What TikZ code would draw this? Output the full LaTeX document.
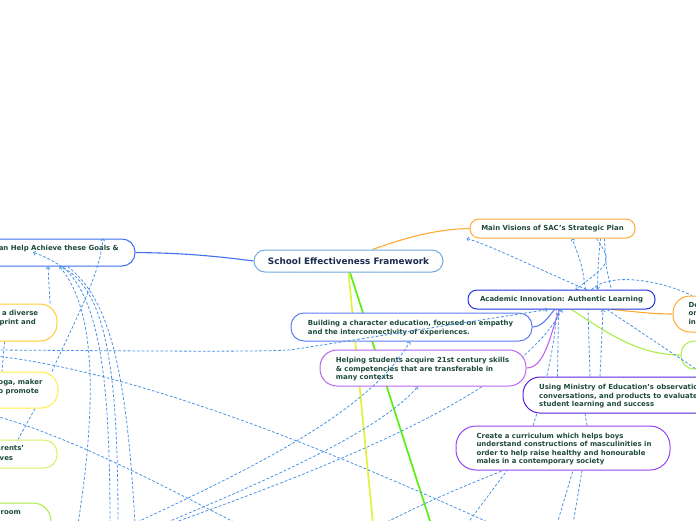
\documentclass[tikz,border=0pt]{standalone}
\usepackage{fontspec}
\setmainfont{DejaVu Sans}
\usetikzlibrary{arrows.meta}
\definecolor{tc}{HTML}{1E4A3C}
\definecolor{ctc}{HTML}{1C2C4E}
\definecolor{dashc}{HTML}{4A92E6}
\definecolor{cenb}{HTML}{72AADD}
\definecolor{lgb}{HTML}{3D6EF0}
\definecolor{orb}{HTML}{FFAA33}
\definecolor{acb}{HTML}{2233DD}
\definecolor{bub}{HTML}{5B7FF0}
\definecolor{heb}{HTML}{BB66EE}
\definecolor{usb}{HTML}{5A22DD}
\definecolor{crb}{HTML}{9944EE}
\definecolor{grb}{HTML}{AAEE44}
\definecolor{yob}{HTML}{FFCC33}
\definecolor{yeb}{HTML}{FFEE44}
\definecolor{lgc}{HTML}{DDEE66}
\definecolor{yell}{HTML}{E2F23A}
\definecolor{grn}{HTML}{5AEE14}
\definecolor{blu}{HTML}{4070EE}
\pgfdeclarelayer{bg}
\pgfsetlayers{bg,main}
\begin{document}
\begin{tikzpicture}[x=1pt,y=-1pt,
  box/.style={draw, fill=white, line width=1pt, inner sep=0pt, anchor=center},
  txt/.style={text=tc, font=\fontsize{6.95}{8.6}\selectfont\bfseries, inner sep=0pt, align=left, anchor=north west},
  rt/.style={text=tc, font=\fontsize{6.95}{8.6}\selectfont\bfseries, inner sep=0pt, anchor=base east},
  rel/.style={draw=dashc, line width=0.8pt, dash pattern=on 2.8pt off 1.9pt},
  arr/.style={-{Straight Barb[length=2pt,width=4pt,line width=0.7pt]}},
  larr/.style={{Straight Barb[length=2pt,width=4pt,line width=0.7pt]}-},
  solid/.style={line width=1.1pt}]
\useasboundingbox (0,0) rectangle (696,520);
\clip (0,0) rectangle (696,520);

% free ends
\coordinate (e78) at (78,524);
\coordinate (e110) at (110,524);
\coordinate (e118) at (118,524);
\coordinate (e133) at (133,524);
\coordinate (e135) at (135,524);
\coordinate (e163) at (163,524);
\coordinate (e170) at (170,524);
\coordinate (e238) at (238,524);
\coordinate (e383) at (383,524);
\coordinate (e467) at (467,524);
\coordinate (e490) at (492,524);
\coordinate (e557) at (557,524);
\coordinate (e573) at (573,524);
\coordinate (eY) at (373,524);
\coordinate (eG) at (431,524);
\coordinate (eR) at (702,373);
\coordinate (hL1) at (-4,350);
\coordinate (hL2) at (-4,356);
\coordinate (hL3) at (-4,416);

% nodes
\node[box, draw=cenb, minimum width=189pt, minimum height=22pt, rounded corners=11pt, text=ctc, font=\fontsize{8.85}{10}\selectfont\bfseries] (central) at (348.5,261) {School Effectiveness Framework};
\node[box, draw=lgb, minimum width=195pt, minimum height=27pt, rounded corners=13pt] (lg) at (37.5,252.5) {};
\node[box, draw=orb, minimum width=165pt, minimum height=19pt, rounded corners=9pt, text=tc, font=\fontsize{6.95}{8.6}\selectfont\bfseries] (mainvis) at (552.5,228.5) {Main Visions of SAC's Strategic Plan};
\node[box, draw=acb, minimum width=187pt, minimum height=19pt, rounded corners=9pt, text=tc, font=\fontsize{6.95}{8.6}\selectfont\bfseries] (acad) at (561.5,299.5) {Academic Innovation: Authentic Learning};
\node[box, draw=bub, minimum width=241pt, minimum height=28pt, rounded corners=13pt] (build) at (411.5,327) {};
\node[box, draw=heb, minimum width=206pt, minimum height=36pt, rounded corners=17pt] (help) at (423,368) {};
\node[box, draw=usb, minimum width=237pt, minimum height=36pt, rounded corners=17pt] (using) at (641.5,395) {};
\node[box, draw=crb, minimum width=214pt, minimum height=44pt, rounded corners=20pt] (create) at (563,448) {};
\node[box, draw=orb, minimum width=87pt, minimum height=36pt, rounded corners=17pt] (De) at (716.5,314) {};
\node[box, draw=grb, minimum width=79pt, minimum height=28pt, rounded corners=13pt] (gR) at (720.5,355) {};
\node[box, draw=yob, minimum width=117pt, minimum height=37pt, rounded corners=17pt] (y1) at (-1.5,322.5) {};
\node[box, draw=yeb, minimum width=118pt, minimum height=36pt, rounded corners=17pt] (y2) at (-1,390) {};
\node[box, draw=lgc, minimum width=117pt, minimum height=28pt, rounded corners=13pt] (lg3) at (-1.5,454) {};
\node[box, draw=grb, minimum width=111pt, minimum height=44pt, rounded corners=18pt] (g4) at (-4.5,525) {};

% texts
\node[txt] (buildt) at (307.7,320.3) {Building a character education, focused on empathy\\and the interconnectivity of experiences.};
\node[txt] (helpt) at (335.7,357) {Helping students acquire 21st century skills\\\& competencies that are transferable in\\many contexts};
\node[txt] (usingt) at (539,384.3) {Using Ministry of Education's observations,\\conversations, and products to evaluate\\student learning and success};
\node[txt] (createt) at (476.3,432.7) {Create a curriculum which helps boys\\understand constructions of masculinities in\\order to help raise healthy and honourable\\males in a contemporary society};
\node[txt] (Det) at (688.3,302) {De\\or\\in};
\node[rt] (lgt) at (119,250.5) {an Help Achieve these Goals \&};
\node[rt] (y1ta) at (38.3,315.8) {a diverse};
\node[rt] (y1tb) at (36,324.5) {print and};
\node[rt] (y2ta) at (42.7,384.2) {oga, maker};
\node[rt] (y2tb) at (39,393.2) {o promote};
\node[rt] (l3ta) at (24.3,450.8) {arents'};
\node[rt] (l3tb) at (13.3,460.5) {ves};
\node[rt] (g4t) at (21,514.2) {room};

\begin{pgfonlayer}{bg}
% solid branches
\draw[blu, solid] (central.west) .. controls (200,254) and (170,253) .. (lg.east);
\draw[orb, solid] ([xshift=24]central.north) .. controls (410,236) and (440,229) .. (mainvis.west);
\draw[yell, line width=1.7pt] (central.south) -- (eY);
\draw[grn, line width=1.7pt] ([xshift=1.5]central.south) -- (eG);
\draw[bub, solid] ([xshift=-7]acad.south) .. controls (545,322) and (540,327) .. (build.east);
\draw[heb, solid] ([xshift=-2]acad.south) .. controls (550,335) and (545,368) .. (help.east);
\draw[grb, solid] ([xshift=10]acad.south) .. controls (610,335) and (640,355) .. (gR.west);
\draw[orb, solid] ([xshift=50]acad.south) .. controls (630,311) and (650,314) .. (De.west);

% dashed relations behind nodes
\draw[rel,larr] ([xshift=22]lg.south) .. controls (88,300) and (102,370) .. (e78);
\draw[rel,larr] ([xshift=25]lg.south) .. controls (100,300) and (110,380) .. (e110);
\draw[rel] ([xshift=30]lg.south) .. controls (112,300) and (127,380) .. (e135);
\draw[rel,arr] ([xshift=51.5]y1.north) -- ([xshift=10.5]lg.south);
\draw[rel] ([xshift=36]y2.south) -- ([xshift=19.5]lg3.north);
\draw[rel] ([xshift=6]y1.south) -- ([xshift=3]y2.north);
\draw[rel] (hL2) .. controls (150,374) and (350,460) .. (e490);
\draw[rel] (hL3) .. controls (80,440) and (180,495) .. (e238);
\draw[rel,arr] (e163) .. controls (280,475) and (380,430) .. ([xshift=-5]help.south);
\draw[rel,arr] (e170) .. controls (350,460) and (520,390) .. ([xshift=0.5]acad.south);
\draw[rel] ([xshift=-30]create.north) .. controls (545,390) and (556,340) .. ([xshift=-5]acad.south);
\draw[rel] (e383) .. controls (440,495) and (480,480) .. ([xshift=-60]create.south);
\draw[rel] (e467) -- ([xshift=-56]create.south);
\draw[rel] (e557) -- ([xshift=10]create.south);
\draw[rel] (e573) -- ([xshift=19]create.south);
\draw[rel] ([xshift=24]create.north) -- ([xshift=-56.5]using.south);
\draw[rel] ([xshift=-51.5]using.north) -- ([xshift=26.5]acad.south);
\draw[rel,arr] ([xshift=-41.5]using.north) -- ([xshift=41.5]acad.south);
\draw[rel] ([xshift=-84]using.north) -- ([xshift=-3]acad.south);
\draw[rel,arr] ([xshift=25]acad.north) .. controls (540,270) and (490,245) .. ([xshift=-86]mainvis.south);
\draw[rel] ([xshift=30]acad.north) .. controls (610,272) and (660,280) .. ([xshift=-24.5]De.north);
\draw[rel,arr] ([xshift=24]acad.north) .. controls (582,265) .. ([xshift=19.5]mainvis.south);
\draw[rel,arr] ([xshift=44]mainvis.south) .. controls (612,262) .. ([xshift=14]acad.north);
\draw[rel,arr] ([xshift=48]mainvis.south) .. controls (598,265) .. ([xshift=36]acad.north);
\draw[rel] ([xshift=52]mainvis.south) .. controls (606,268) .. ([xshift=50]acad.north);
\end{pgfonlayer}

% dashed relations drawn over nodes
\draw[rel,arr] (e118) .. controls (118,380) and (108,300) .. (70,272) .. controls (55,262) and (45,256) .. ([xshift=-4.5]lg.center);
\draw[rel,arr] ([xshift=53]y2.north) .. controls (75,320) and (100,275) .. ([xshift=65.5]lg.north);
\draw[rel,arr] (hL1) .. controls (150,351) and (250,352) .. (290,350) -- ([xshift=-13.5]acad.south);
\draw[rel,arr] (e133) .. controls (260,465) and (370,410) .. ([xshift=-1.5]build.south);
\draw[rel] ([xshift=45.5]acad.south) -- (eR);
\end{tikzpicture}
\end{document}
